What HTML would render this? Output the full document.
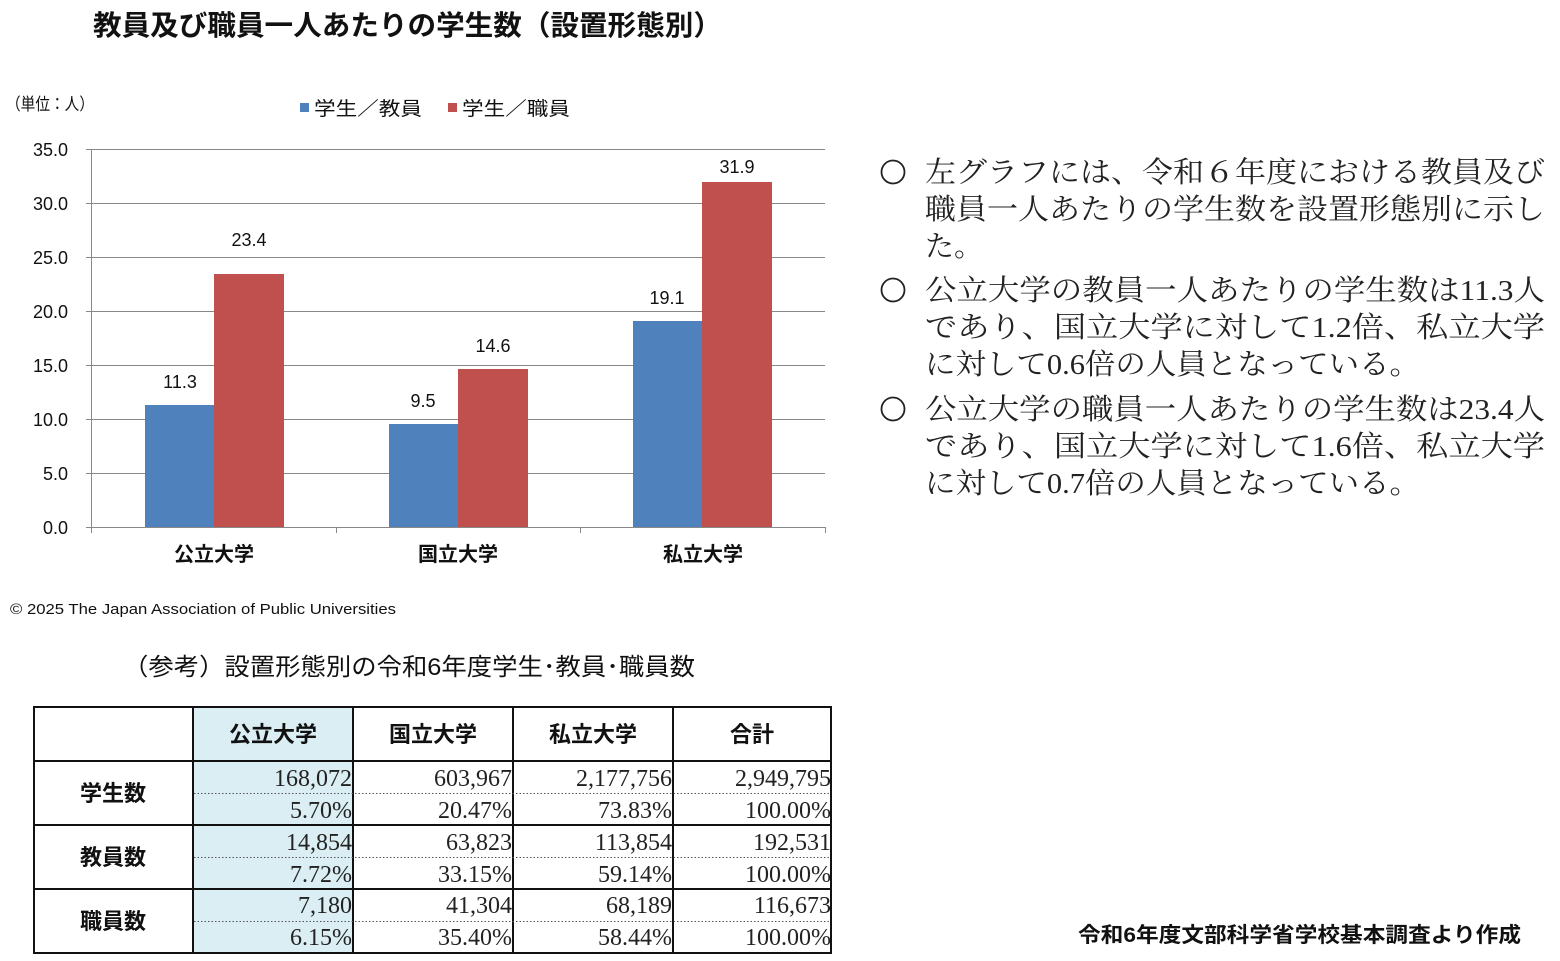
<!DOCTYPE html>
<html><head><meta charset="utf-8"><style>
html,body{margin:0;padding:0;background:#fff;}
svg{display:block;}
.g{font-family:"Liberation Sans","Noto Sans CJK JP",sans-serif;}
.m{font-family:"Liberation Serif","Noto Serif CJK SC",serif;}
</style></head><body>
<svg width="1560" height="961" viewBox="0 0 1560 961" xmlns="http://www.w3.org/2000/svg">
<rect width="1560" height="961" fill="#fff"/>
<text class="g" x="93" y="35" font-size="28" font-weight="bold" fill="#111" textLength="629" lengthAdjust="spacingAndGlyphs">教員及び職員一人あたりの学生数（設置形態別）</text>
<text class="g" x="6" y="110" font-size="17" fill="#111" textLength="88" lengthAdjust="spacingAndGlyphs">（単位：人）</text>
<rect x="300" y="103" width="9" height="9" fill="#4f81bd"/>
<text class="g" x="314" y="115" font-size="19" fill="#111" textLength="108" lengthAdjust="spacingAndGlyphs">学生／教員</text>
<rect x="448" y="103" width="9" height="9" fill="#c0504d"/>
<text class="g" x="462" y="115" font-size="19" fill="#111" textLength="108" lengthAdjust="spacingAndGlyphs">学生／職員</text>
<g stroke="#888" stroke-width="1">
<line x1="86" y1="149.5" x2="825" y2="149.5"/>
<line x1="86" y1="203.5" x2="825" y2="203.5"/>
<line x1="86" y1="257.5" x2="825" y2="257.5"/>
<line x1="86" y1="311.5" x2="825" y2="311.5"/>
<line x1="86" y1="365.5" x2="825" y2="365.5"/>
<line x1="86" y1="419.5" x2="825" y2="419.5"/>
<line x1="86" y1="473.5" x2="825" y2="473.5"/>
<line x1="86" y1="527.5" x2="825" y2="527.5"/>
<line x1="91.5" y1="149" x2="91.5" y2="527"/>
<line x1="91.5" y1="527" x2="91.5" y2="533"/>
<line x1="336.5" y1="527" x2="336.5" y2="533"/>
<line x1="580.5" y1="527" x2="580.5" y2="533"/>
<line x1="825.5" y1="527" x2="825.5" y2="533"/>
</g>
<g class="g" font-size="18" fill="#111" text-anchor="end">
<text x="68" y="156">35.0</text><text x="68" y="210">30.0</text><text x="68" y="264">25.0</text>
<text x="68" y="318">20.0</text><text x="68" y="372">15.0</text><text x="68" y="426">10.0</text>
<text x="68" y="480">5.0</text><text x="68" y="534">0.0</text>
</g>
<rect x="145" y="405" width="69" height="122" fill="#4f81bd"/>
<rect x="214" y="274" width="70" height="253" fill="#c0504d"/>
<rect x="389" y="424" width="69" height="103" fill="#4f81bd"/>
<rect x="458" y="369" width="70" height="158" fill="#c0504d"/>
<rect x="633" y="321" width="69" height="206" fill="#4f81bd"/>
<rect x="702" y="182" width="70" height="345" fill="#c0504d"/>
<g class="g" font-size="18" fill="#111" text-anchor="middle">
<text x="180" y="388">11.3</text><text x="249" y="246">23.4</text>
<text x="423" y="407">9.5</text><text x="493" y="352">14.6</text>
<text x="667" y="304">19.1</text><text x="737" y="173">31.9</text>
</g>
<g class="g" font-size="20" font-weight="bold" fill="#111" text-anchor="middle">
<text x="214" y="561">公立大学</text><text x="458" y="561">国立大学</text><text x="703" y="561">私立大学</text>
</g>
<text class="g" x="10" y="614" font-size="15" fill="#111" textLength="386" lengthAdjust="spacingAndGlyphs">©   2025   The Japan Association of Public Universities</text>
<text class="g" x="123" y="675" font-size="24" fill="#111" textLength="572" lengthAdjust="spacingAndGlyphs">（参考）設置形態別の令和6年度学生･教員･職員数</text>
<rect x="193" y="706" width="160" height="247" fill="#daeef3"/>
<g stroke="#111" stroke-width="2" fill="none">
<rect x="34" y="707" width="797" height="246"/>
<line x1="193" y1="706" x2="193" y2="953"/>
<line x1="353" y1="706" x2="353" y2="953"/>
<line x1="513" y1="706" x2="513" y2="953"/>
<line x1="673" y1="706" x2="673" y2="953"/>
<line x1="33" y1="761" x2="832" y2="761"/>
<line x1="33" y1="825" x2="832" y2="825"/>
<line x1="33" y1="889" x2="832" y2="889"/>
</g>
<g stroke="#555" stroke-width="1" stroke-dasharray="1.5,2">
<line x1="194" y1="793.5" x2="831" y2="793.5"/>
<line x1="194" y1="857.5" x2="831" y2="857.5"/>
<line x1="194" y1="921.5" x2="831" y2="921.5"/>
</g>
<g class="g" font-size="22" font-weight="bold" fill="#111" text-anchor="middle">
<text x="273" y="742">公立大学</text><text x="433" y="742">国立大学</text><text x="593" y="742">私立大学</text><text x="752" y="742">合計</text>
<text x="113" y="801">学生数</text><text x="113" y="865">教員数</text><text x="113" y="929">職員数</text>
</g>
<g class="m" font-size="24" fill="#222" text-anchor="end">
<text x="352" y="786">168,072</text><text x="512" y="786">603,967</text><text x="672" y="786">2,177,756</text><text x="831" y="786">2,949,795</text>
<text x="352" y="818">5.70%</text><text x="512" y="818">20.47%</text><text x="672" y="818">73.83%</text><text x="831" y="818">100.00%</text>
<text x="352" y="850">14,854</text><text x="512" y="850">63,823</text><text x="672" y="850">113,854</text><text x="831" y="850">192,531</text>
<text x="352" y="882">7.72%</text><text x="512" y="882">33.15%</text><text x="672" y="882">59.14%</text><text x="831" y="882">100.00%</text>
<text x="352" y="913">7,180</text><text x="512" y="913">41,304</text><text x="672" y="913">68,189</text><text x="831" y="913">116,673</text>
<text x="352" y="945">6.15%</text><text x="512" y="945">35.40%</text><text x="672" y="945">58.44%</text><text x="831" y="945">100.00%</text>
</g>
<text class="g" x="1078" y="942" font-size="21" font-weight="bold" fill="#111" textLength="443" lengthAdjust="spacingAndGlyphs">令和6年度文部科学省学校基本調査より作成</text>
<g class="m" font-size="29" fill="#222">
<circle cx="893" cy="172" r="11.5" fill="none" stroke="#222" stroke-width="1.8"/>
<text x="925" y="182" textLength="620" lengthAdjust="spacingAndGlyphs">左グラフには、令和６年度における教員及び</text>
<text x="925" y="219" textLength="620" lengthAdjust="spacingAndGlyphs">職員一人あたりの学生数を設置形態別に示し</text>
<text x="925" y="256">た。</text>
<circle cx="893" cy="290" r="11.5" fill="none" stroke="#222" stroke-width="1.8"/>
<text x="925" y="300" textLength="620" lengthAdjust="spacingAndGlyphs">公立大学の教員一人あたりの学生数は11.3人</text>
<text x="925" y="337" textLength="620" lengthAdjust="spacingAndGlyphs">であり、国立大学に対して1.2倍、私立大学</text>
<text x="925" y="374" textLength="495" lengthAdjust="spacingAndGlyphs">に対して0.6倍の人員となっている。</text>
<circle cx="893" cy="409" r="11.5" fill="none" stroke="#222" stroke-width="1.8"/>
<text x="925" y="419" textLength="620" lengthAdjust="spacingAndGlyphs">公立大学の職員一人あたりの学生数は23.4人</text>
<text x="925" y="456" textLength="620" lengthAdjust="spacingAndGlyphs">であり、国立大学に対して1.6倍、私立大学</text>
<text x="925" y="493" textLength="495" lengthAdjust="spacingAndGlyphs">に対して0.7倍の人員となっている。</text>
</g>
</svg>
</body></html>
